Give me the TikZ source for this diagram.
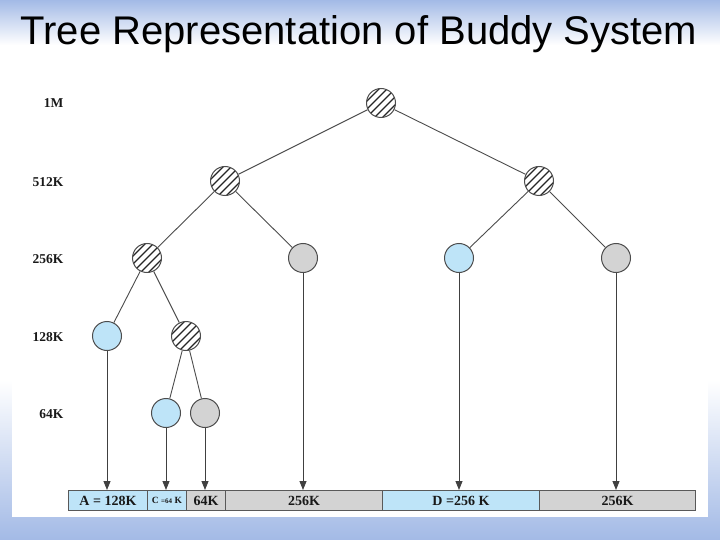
\documentclass[tikz,border=0pt]{standalone}
\usepackage{fontspec}
\usetikzlibrary{arrows.meta}
\setmainfont{Liberation Serif}
\newfontfamily\titlefont{Liberation Sans}
\begin{document}
\begin{tikzpicture}[x=1pt,y=-1pt,
  nd/.style={circle,draw=black!70,line width=1pt,minimum size=29pt,inner sep=0pt},
  hatch/.style={nd,fill=white,path picture={
    \foreach \d in {-32,-24,...,32}
      \draw[black!85,line width=1.2pt,shift={(path picture bounding box.center)}] (\d-20,20) -- (\d+20,-20);}},
  bluen/.style={nd,fill=cblue},
  grayn/.style={nd,fill=cgray},
  edge/.style={draw=black!70,line width=0.9pt},
  arr/.style={draw=black!75,line width=0.9pt,-{Triangle[length=9pt,width=7pt]}},
  lvl/.style={anchor=east,font=\bfseries\fontsize{13.5}{15}\selectfont,text=black!90},
  seg/.style={draw=black!65,line width=0.9pt,minimum height=20pt,inner sep=0pt,anchor=north west,font=\bfseries\fontsize{14}{15}\selectfont,text=black!90}
]
\definecolor{cblue}{HTML}{BEE4F8}
\definecolor{cgray}{HTML}{D3D3D3}
\definecolor{bgblue}{HTML}{A3BAE6}
\useasboundingbox (0,0) rectangle (720,540);
% background
\shade[top color=bgblue,bottom color=white] (0,0) rectangle (720,45);
\fill[white] (0,45) rectangle (720,380);
\shade[top color=white,bottom color=bgblue] (0,380) rectangle (720,540);
\fill[white] (12,45) rectangle (708,517);
% title
\node[font=\titlefont\fontsize{40}{44}\selectfont,anchor=base] (title) at (359,45) {Tree Representation of Buddy System};
% level labels
\node[lvl] (l1) at (67,103) {1M};
\node[lvl] (l2) at (67,182) {512K};
\node[lvl] (l3) at (67,259) {256K};
\node[lvl] (l4) at (67,337) {128K};
\node[lvl] (l5) at (67,414) {64K};
% nodes
\node[hatch] (r) at (381,103) {};
\node[hatch] (a) at (225,181) {};
\node[hatch] (b) at (539,181) {};
\node[hatch] (aa) at (147,258) {};
\node[grayn] (ab) at (303,258) {};
\node[bluen] (ba) at (459,258) {};
\node[grayn] (bb) at (616,258) {};
\node[bluen] (aaa) at (107,336) {};
\node[hatch] (aab) at (186,336) {};
\node[bluen] (aaba) at (166,413) {};
\node[grayn] (aabb) at (205,413) {};
% edges
\draw[edge] (r) -- (a);
\draw[edge] (r) -- (b);
\draw[edge] (a) -- (aa);
\draw[edge] (a) -- (ab);
\draw[edge] (b) -- (ba);
\draw[edge] (b) -- (bb);
\draw[edge] (aa) -- (aaa);
\draw[edge] (aa) -- (aab);
\draw[edge] (aab) -- (aaba);
\draw[edge] (aab) -- (aabb);
% bar segments
\node[seg,fill=cblue,minimum width=79pt] (s1) at (68,490) {A = 128K};
\node[seg,fill=cblue,minimum width=39pt,font=\bfseries\fontsize{9.5}{10}\selectfont] (s2) at (147,490) {C {\fontsize{7}{8}\selectfont =64} K};
\node[seg,fill=cgray,minimum width=39pt] (s3) at (186,490) {64K};
\node[seg,fill=cgray,minimum width=157pt] (s4) at (225,490) {256K};
\node[seg,fill=cblue,minimum width=157pt] (s5) at (382,490) {D =256 K};
\node[seg,fill=cgray,minimum width=156pt] (s6) at (539,490) {256K};
% arrows
\draw[arr] (aaa) -- (aaa |- s1.north);
\draw[arr] (aaba) -- (aaba |- s2.north);
\draw[arr] (aabb) -- (aabb |- s3.north);
\draw[arr] (ab) -- (ab |- s4.north);
\draw[arr] (ba) -- (ba |- s5.north);
\draw[arr] (bb) -- (bb |- s6.north);
\end{tikzpicture}
\end{document}
